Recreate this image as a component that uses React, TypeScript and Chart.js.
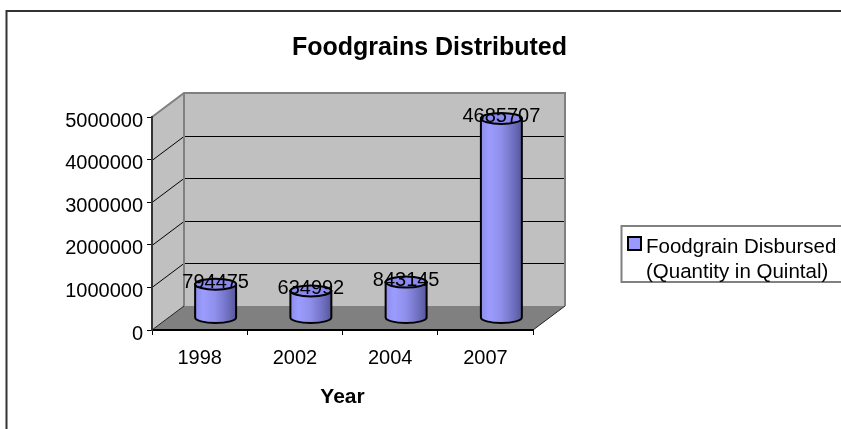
import React, { useEffect, useRef } from "react";
import { Chart, registerables } from "chart.js";

Chart.register(...registerables);

const years = ["1998", "2002", "2004", "2007"];
const quantities = [794475, 634992, 843145, 4685707];
const seriesLabel = "Foodgrain Disbursed (Quantity in Quintal)";
const legendLines = ["Foodgrain Disbursed", "(Quantity in Quintal)"];
const chartTitle = "Foodgrains Distributed";
const xAxisTitle = "Year";

const FONT = "'Liberation Sans', Arial, sans-serif";
// Perspective offset from the front plane to the back wall.
const DEPTH_X = 32;
const DEPTH_Y = 24;

// Walls, floor and gridlines of the pseudo-3D box.
const boxPlugin = {
  id: "box3d",
  // The title is centred across the whole frame, not only the plot column.
  afterLayout(chart: any) {
    chart.titleBlock.left = 18;
    chart.titleBlock.right = chart.width;
  },
  beforeDraw(chart: any) {
    const { ctx, chartArea: a, scales } = chart;
    const y = scales.y;
    ctx.save();

    // Outer frame, open on the right and bottom.
    ctx.strokeStyle = "#333333";
    ctx.lineWidth = 2;
    ctx.beginPath();
    ctx.moveTo(841, 11);
    ctx.lineTo(6.5, 11);
    ctx.lineTo(6.5, 429);
    ctx.stroke();

    const poly = (pts: number[][], fill: string) => {
      ctx.beginPath();
      pts.forEach((p, i) => (i ? ctx.lineTo(p[0], p[1]) : ctx.moveTo(p[0], p[1])));
      ctx.closePath();
      ctx.fillStyle = fill;
      ctx.fill();
    };
    const L = a.left, R = a.right, T = a.top, B = a.bottom;
    const bL = L + DEPTH_X, bR = R + DEPTH_X, bT = T - DEPTH_Y, bB = B - DEPTH_Y;

    poly([[bL, bT], [bR, bT], [bR, bB], [bL, bB]], "#c0c0c0");
    poly([[L, T], [bL, bT], [bL, bB], [L, B]], "#c0c0c0");
    poly([[L, B], [bL, bB], [bR, bB], [R, B]], "#808080");

    // Gridlines run along the side wall and across the back wall.
    ctx.lineWidth = 1;
    ctx.strokeStyle = "#000000";
    y.ticks.forEach((t: any) => {
      if (t.value === 0 || t.value === y.max) return;
      const py = Math.round(y.getPixelForValue(t.value)) + 0.5;
      ctx.beginPath();
      ctx.moveTo(L, py);
      ctx.lineTo(bL, py - DEPTH_Y);
      ctx.lineTo(bR, py - DEPTH_Y);
      ctx.stroke();
    });

    // Grey outline of the walls.
    ctx.strokeStyle = "#808080";
    ctx.lineWidth = 2;
    ctx.beginPath();
    ctx.moveTo(L, T);
    ctx.lineTo(bL, bT);
    ctx.lineTo(bR, bT);
    ctx.lineTo(bR, bB);
    ctx.moveTo(bL, bT);
    ctx.lineTo(bL, bB);
    ctx.stroke();

    // Front-right edge of the floor.
    ctx.strokeStyle = "#222222";
    ctx.lineWidth = 1;
    ctx.beginPath();
    ctx.moveTo(L, B);
    ctx.lineTo(bL, bB);
    ctx.moveTo(R, B);
    ctx.lineTo(bR, bB);
    ctx.stroke();
    ctx.restore();
  },
};

// Replaces each bar rectangle with a cylinder standing mid-way into the box.
const cylinderPlugin = {
  id: "cylinders",
  beforeDatasetDraw(chart: any, args: any) {
    const { ctx } = chart;
    const meta = args.meta;
    const dataset = chart.data.datasets[args.index];
    const ry = 5.5;
    meta.data.forEach((bar: any, i: number) => {
      const cx = bar.x + DEPTH_X / 2;
      const top = bar.y - DEPTH_Y / 2;
      const bottom = bar.base - DEPTH_Y / 2;
      const rx = bar.width / 2;
      const left = cx - rx;
      const right = cx + rx;

      const g = ctx.createLinearGradient(left, 0, right, 0);
      g.addColorStop(0, "#8c8cec");
      g.addColorStop(0.2, "#9c9cff");
      g.addColorStop(0.5, "#8e8eea");
      g.addColorStop(0.8, "#6f6fc0");
      g.addColorStop(1, "#565698");

      ctx.save();
      ctx.beginPath();
      ctx.moveTo(left, top);
      ctx.lineTo(left, bottom);
      ctx.ellipse(cx, bottom, rx, ry, 0, Math.PI, 0, true);
      ctx.lineTo(right, top);
      ctx.closePath();
      ctx.fillStyle = g;
      ctx.fill();
      ctx.strokeStyle = "#000000";
      ctx.lineWidth = 2;
      ctx.stroke();

      ctx.beginPath();
      ctx.ellipse(cx, top, rx, ry, 0, 0, Math.PI * 2);
      ctx.fillStyle = "#8a8af0";
      ctx.fill();
      ctx.stroke();

      // Value label sits over the top cap.
      ctx.fillStyle = "#000000";
      ctx.font = `20px ${FONT}`;
      ctx.textAlign = "center";
      ctx.textBaseline = "middle";
      ctx.fillText(String(dataset.data[i]), cx, top - 2);
      ctx.restore();
    });
    return false;
  },
};

// Boxed legend with a two-line entry, running off the right edge.
const legendPlugin = {
  id: "sideLegend",
  afterDraw(chart: any) {
    const { ctx } = chart;
    ctx.save();
    ctx.strokeStyle = "#808080";
    ctx.lineWidth = 2;
    ctx.beginPath();
    ctx.moveTo(841, 226);
    ctx.lineTo(621.5, 226);
    ctx.lineTo(621.5, 282);
    ctx.lineTo(841, 282);
    ctx.stroke();

    ctx.fillStyle = "#9999ff";
    ctx.strokeStyle = "#000000";
    ctx.fillRect(628, 237, 13, 13);
    ctx.strokeRect(628, 237, 13, 13);

    ctx.fillStyle = "#000000";
    ctx.font = `20.5px ${FONT}`;
    ctx.textAlign = "left";
    ctx.textBaseline = "middle";
    ctx.fillText(legendLines[0], 646, 247.5);
    ctx.fillText(legendLines[1], 646, 272.5);
    ctx.restore();
  },
};

export default function App() {
  const canvasRef = useRef<HTMLCanvasElement>(null);

  useEffect(() => {
    const chart = new Chart(canvasRef.current as HTMLCanvasElement, {
      type: "bar",
      data: {
        labels: years,
        datasets: [
          {
            label: seriesLabel,
            data: quantities,
            backgroundColor: "#9999ff",
            borderColor: "#000000",
            barPercentage: 0.43,
            categoryPercentage: 1,
          },
        ],
      },
      plugins: [boxPlugin, cylinderPlugin, legendPlugin],
      options: {
        animation: false,
        responsive: false,
        events: [],
        layout: { padding: { left: 18, right: 308, top: 0, bottom: 0 } },
        plugins: {
          legend: { display: false },
          tooltip: { enabled: false },
          title: {
            display: true,
            text: chartTitle,
            color: "#000000",
            font: { family: FONT, size: 25, weight: "bold", lineHeight: 1.2 },
            padding: { top: 33, bottom: 54 },
          },
        },
        scales: {
          x: {
            afterFit: (s: any) => {
              s.height = 99;
            },
            border: { color: "#000000", width: 2 },
            grid: { drawOnChartArea: false, drawTicks: true, tickLength: 5, tickColor: "#000000", tickWidth: 1 },
            ticks: { color: "#000000", font: { family: FONT, size: 20 }, padding: 11, maxRotation: 0 },
            title: {
              display: true,
              text: xAxisTitle,
              color: "#000000",
              font: { family: FONT, size: 21, weight: "bold" },
              padding: { top: 0, bottom: 19 },
            },
          },
          y: {
            min: 0,
            max: 5000000,
            afterFit: (s: any) => {
              s.width = 134;
            },
            border: { color: "#333333", width: 2 },
            grid: { drawOnChartArea: false, drawTicks: true, tickLength: 5, tickColor: "#000000", tickWidth: 1 },
            ticks: {
              stepSize: 1000000,
              color: "#000000",
              font: { family: FONT, size: 20 },
              padding: 4,
              labelOffset: 4,
              callback: (v: any) => String(v),
            },
          },
        },
      },
    } as any);
    return () => chart.destroy();
  }, []);

  return (
    <canvas
      ref={canvasRef}
      width={841}
      height={429}
      style={{ position: "absolute", left: 0, top: 0, display: "block", background: "#ffffff" }}
    />
  );
}
